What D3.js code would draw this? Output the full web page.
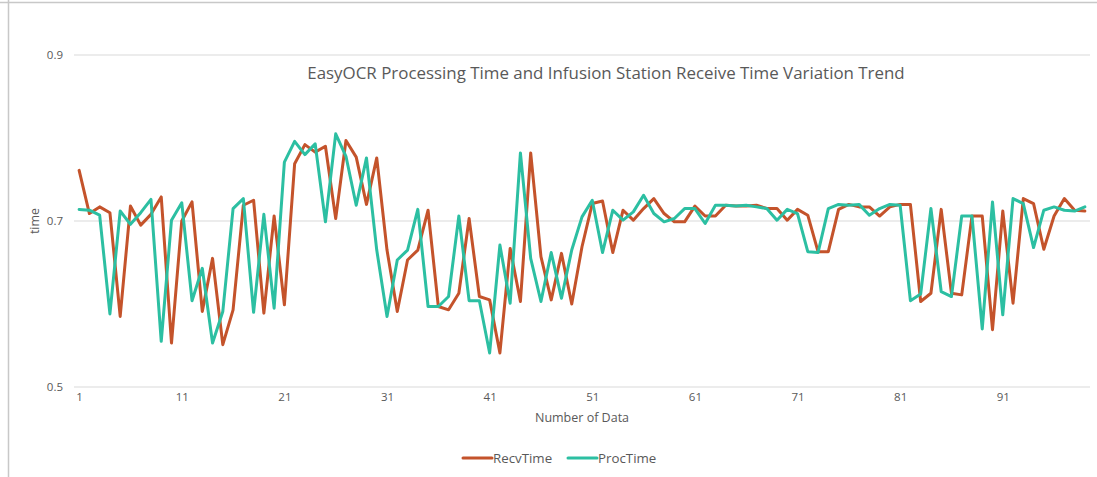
<!DOCTYPE html>
<html>
<head>
<meta charset="utf-8">
<script src="https://cdn.jsdelivr.net/npm/d3@7"></script>
<style>
  html, body { margin: 0; padding: 0; background: #fff; }
  svg { display: block; }
  text { font-family: "Open Sans", "Noto Sans", sans-serif; fill: #595959; }
</style>
</head>
<body>
<svg id="chart" width="1097" height="477"></svg>
<script>
const titleText = "EasyOCR Processing Time and Infusion Station Receive Time Variation Trend";
const xAxisTitle = "Number of Data";
const yAxisTitle = "time";
const seriesNames = ["RecvTime", "ProcTime"];
const yTicks = [0.5, 0.7, 0.9];
const xTickLabels = [1, 11, 21, 31, 41, 51, 61, 71, 81, 91];

const recvTime = [
  0.761, 0.709, 0.717, 0.710, 0.585, 0.718, 0.695, 0.708, 0.729, 0.553,
  0.700, 0.723, 0.591, 0.655, 0.551, 0.593, 0.719, 0.725, 0.589, 0.706,
  0.599, 0.769, 0.792, 0.783, 0.790, 0.703, 0.797, 0.777, 0.720, 0.776,
  0.665, 0.591, 0.653, 0.665, 0.713, 0.597, 0.593, 0.613, 0.703, 0.609,
  0.605, 0.541, 0.667, 0.603, 0.782, 0.657, 0.605, 0.661, 0.600, 0.669,
  0.721, 0.724, 0.662, 0.713, 0.701, 0.715, 0.727, 0.709, 0.699, 0.699,
  0.718, 0.706, 0.706, 0.719, 0.718, 0.718, 0.719, 0.715, 0.715, 0.701,
  0.714, 0.707, 0.663, 0.663, 0.714, 0.720, 0.717, 0.717, 0.706, 0.717,
  0.720, 0.720, 0.603, 0.613, 0.714, 0.613, 0.611, 0.706, 0.706, 0.569,
  0.712, 0.601, 0.727, 0.721, 0.666, 0.706, 0.727, 0.713, 0.712
];
const procTime = [
  0.714, 0.713, 0.707, 0.588, 0.712, 0.696, 0.710, 0.726, 0.555, 0.701,
  0.722, 0.604, 0.643, 0.553, 0.591, 0.715, 0.727, 0.590, 0.708, 0.595,
  0.771, 0.796, 0.780, 0.793, 0.699, 0.805, 0.778, 0.719, 0.776, 0.665,
  0.585, 0.653, 0.665, 0.714, 0.597, 0.597, 0.609, 0.706, 0.604, 0.604,
  0.541, 0.671, 0.601, 0.782, 0.655, 0.603, 0.662, 0.607, 0.665, 0.705,
  0.725, 0.662, 0.713, 0.701, 0.711, 0.731, 0.709, 0.699, 0.703, 0.715,
  0.715, 0.697, 0.719, 0.719, 0.718, 0.719, 0.717, 0.715, 0.701, 0.714,
  0.709, 0.663, 0.662, 0.715, 0.720, 0.719, 0.720, 0.707, 0.715, 0.720,
  0.719, 0.604, 0.612, 0.715, 0.615, 0.609, 0.706, 0.706, 0.570, 0.723,
  0.587, 0.727, 0.721, 0.668, 0.713, 0.717, 0.713, 0.712, 0.717
];
const colors = ["#C4532B", "#2CBFA2"];

const svg = d3.select("#chart");
const W = 1097, H = 477;

// frame lines
svg.append("line").attr("x1", 0).attr("x2", W).attr("y1", 2.5).attr("y2", 2.5)
  .attr("stroke", "#c8c8c8").attr("stroke-width", 1.5);
svg.append("line").attr("x1", 8.5).attr("x2", 8.5).attr("y1", 0).attr("y2", H)
  .attr("stroke", "#c8c8c8").attr("stroke-width", 1.5);

const mLeft = 74, mRight = 1090, mTop = 55, mBottom = 387;
const indices = d3.range(1, recvTime.length + 1);
const x = d3.scalePoint().domain(indices).range([mLeft, mRight]).padding(0.5);
const y = d3.scaleLinear().domain([0.5, 0.9]).range([mBottom, mTop]);

// gridlines
svg.append("g").selectAll("line").data(yTicks).join("line")
  .attr("x1", mLeft).attr("x2", mRight)
  .attr("y1", d => y(d)).attr("y2", d => y(d))
  .attr("stroke", "#d9d9d9").attr("stroke-width", 1.2);

// y axis labels
const yAxis = d3.axisLeft(y).tickValues(yTicks).tickSize(0).tickPadding(11)
  .tickFormat(d3.format(".1f"));
const gy = svg.append("g").attr("transform", `translate(${mLeft},0)`).call(yAxis);
gy.select(".domain").remove();
gy.selectAll("text").style("font-size", "11.5px").attr("fill", "#595959")
  .style("font-family", "'Open Sans', sans-serif");

// x axis labels
const xAxis = d3.axisBottom(x).tickValues(xTickLabels).tickSize(0).tickPadding(6);
const gx = svg.append("g").attr("transform", `translate(0,${mBottom})`).call(xAxis);
gx.select(".domain").remove();
gx.selectAll("text").style("font-size", "11.5px").attr("fill", "#595959")
  .style("font-family", "'Open Sans', sans-serif");

// lines
const series = [recvTime, procTime];
const line = d3.line().x((d, i) => x(indices[i])).y(d => y(d));
series.forEach((s, k) => {
  svg.append("path").datum(s)
    .attr("fill", "none")
    .attr("stroke", colors[k])
    .attr("stroke-width", 3)
    .attr("stroke-linejoin", "round")
    .attr("stroke-linecap", "round")
    .attr("d", line);
});

// title
svg.append("text").attr("x", 606).attr("y", 78.5).attr("text-anchor", "middle")
  .style("font-size", "16.9px").text(titleText);

// axis titles
svg.append("text").attr("x", 582).attr("y", 422).attr("text-anchor", "middle")
  .style("font-size", "12.5px").text(xAxisTitle);
svg.append("text").attr("transform", "translate(39,221) rotate(-90)")
  .attr("text-anchor", "middle").style("font-size", "12.5px").text(yAxisTitle);

// legend
const legendItems = [
  { name: seriesNames[0], color: colors[0], x: 463 },
  { name: seriesNames[1], color: colors[1], x: 568 }
];
const lg = svg.append("g");
legendItems.forEach(it => {
  lg.append("line").attr("x1", it.x).attr("x2", it.x + 29)
    .attr("y1", 458).attr("y2", 458)
    .attr("stroke", it.color).attr("stroke-width", 3).attr("stroke-linecap", "round");
  lg.append("text").attr("x", it.x + 30).attr("y", 463)
    .style("font-size", "13.3px").text(it.name);
});
</script>
</body>
</html>
